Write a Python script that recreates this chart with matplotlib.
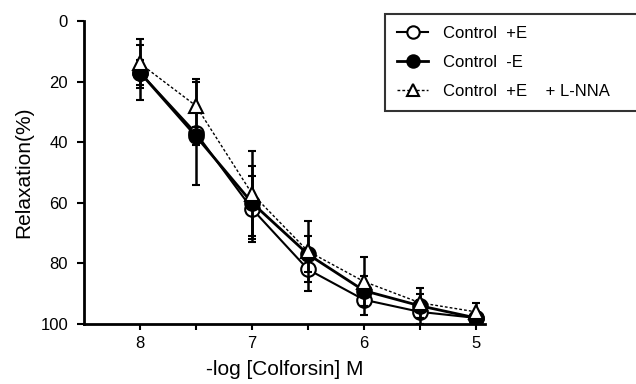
import matplotlib
matplotlib.use("Agg")
import matplotlib.pyplot as plt

plt.rcParams['font.family'] = ['Liberation Sans', 'DejaVu Sans']

x = [8, 7.5, 7, 6.5, 6, 5.5, 5]
ctrl_pE = [17, 37, 62, 82, 92, 96, 98]
ctrl_pE_err = [9, 17, 11, 7, 5, 4, 2]
ctrl_mE = [17, 38, 60, 77, 89, 94, 98]
ctrl_mE_err = [4, 3, 12, 6, 5, 4, 2]
ctrl_lnna = [14, 28, 57, 76, 86, 93, 96]
ctrl_lnna_err = [8, 9, 14, 10, 8, 5, 3]

labels = ["Control  +E", "Control  -E", "Control  +E    + L-NNA"]
x_ticks = [8, 7, 6, 5]
x_minor = [7.5, 6.5, 5.5]
y_ticks = [0, 20, 40, 60, 80, 100]

fig = plt.figure(figsize=(6.36, 3.84), dpi=100)
ax = fig.add_axes([84/636, 1-324/384, (485-84)/636, (324-21)/384])

ax.errorbar(x, ctrl_pE, yerr=ctrl_pE_err, color='black', lw=1.5, marker='o',
            ms=10.5, mfc='white', mec='black', mew=1.5, capsize=3, elinewidth=1.8,
            capthick=1.8, label=labels[0], zorder=3)
ax.errorbar(x, ctrl_mE, yerr=ctrl_mE_err, color='black', lw=2, marker='o',
            ms=10.5, mfc='black', mec='black', mew=1.5, capsize=3, elinewidth=1.8,
            capthick=1.8, label=labels[1], zorder=4)
ax.errorbar(x, ctrl_lnna, yerr=ctrl_lnna_err, color='black', lw=1, ls=(0, (2, 1.5)),
            marker='^', ms=10.5, mfc='white', mec='black', mew=1.5, capsize=3,
            elinewidth=1.8, capthick=1.8, label=labels[2], zorder=5)

ax.set_xlim(8.5, 4.92)
ax.set_ylim(100, 0)
ax.set_xticks(x_ticks)
ax.set_xticks(x_minor, minor=True)
ax.set_yticks(y_ticks)
ax.tick_params(axis='both', which='both', direction='out', width=1.5, labelsize=12)
ax.tick_params(axis='x', which='major', length=4, pad=5)
ax.tick_params(axis='x', which='minor', length=4)
ax.tick_params(axis='y', length=5, pad=6.5)
for s in ['top', 'right']:
    ax.spines[s].set_visible(False)
for s in ['left', 'bottom']:
    ax.spines[s].set_linewidth(2)

ax.set_ylabel("Relaxation(%)", fontsize=15, labelpad=5)
ax.set_xlabel("-log [Colforsin] M", fontsize=15, labelpad=6)

h, l = ax.get_legend_handles_labels()
h = [hh[0] for hh in h]
leg = fig.legend(h, l, loc='upper left',
                 bbox_to_anchor=(385/636, 1-14/384, (640-385)/636, 0.0),
                 bbox_transform=fig.transFigure, mode='expand', borderaxespad=0,
                 frameon=True, fancybox=False, edgecolor='black', fontsize=12,
                 handlelength=1.9, handletextpad=0.9, labelspacing=0.85,
                 borderpad=0.7, markerscale=0.85)
leg.get_frame().set_linewidth(1.5)

fig.savefig("out.png", dpi=100)
